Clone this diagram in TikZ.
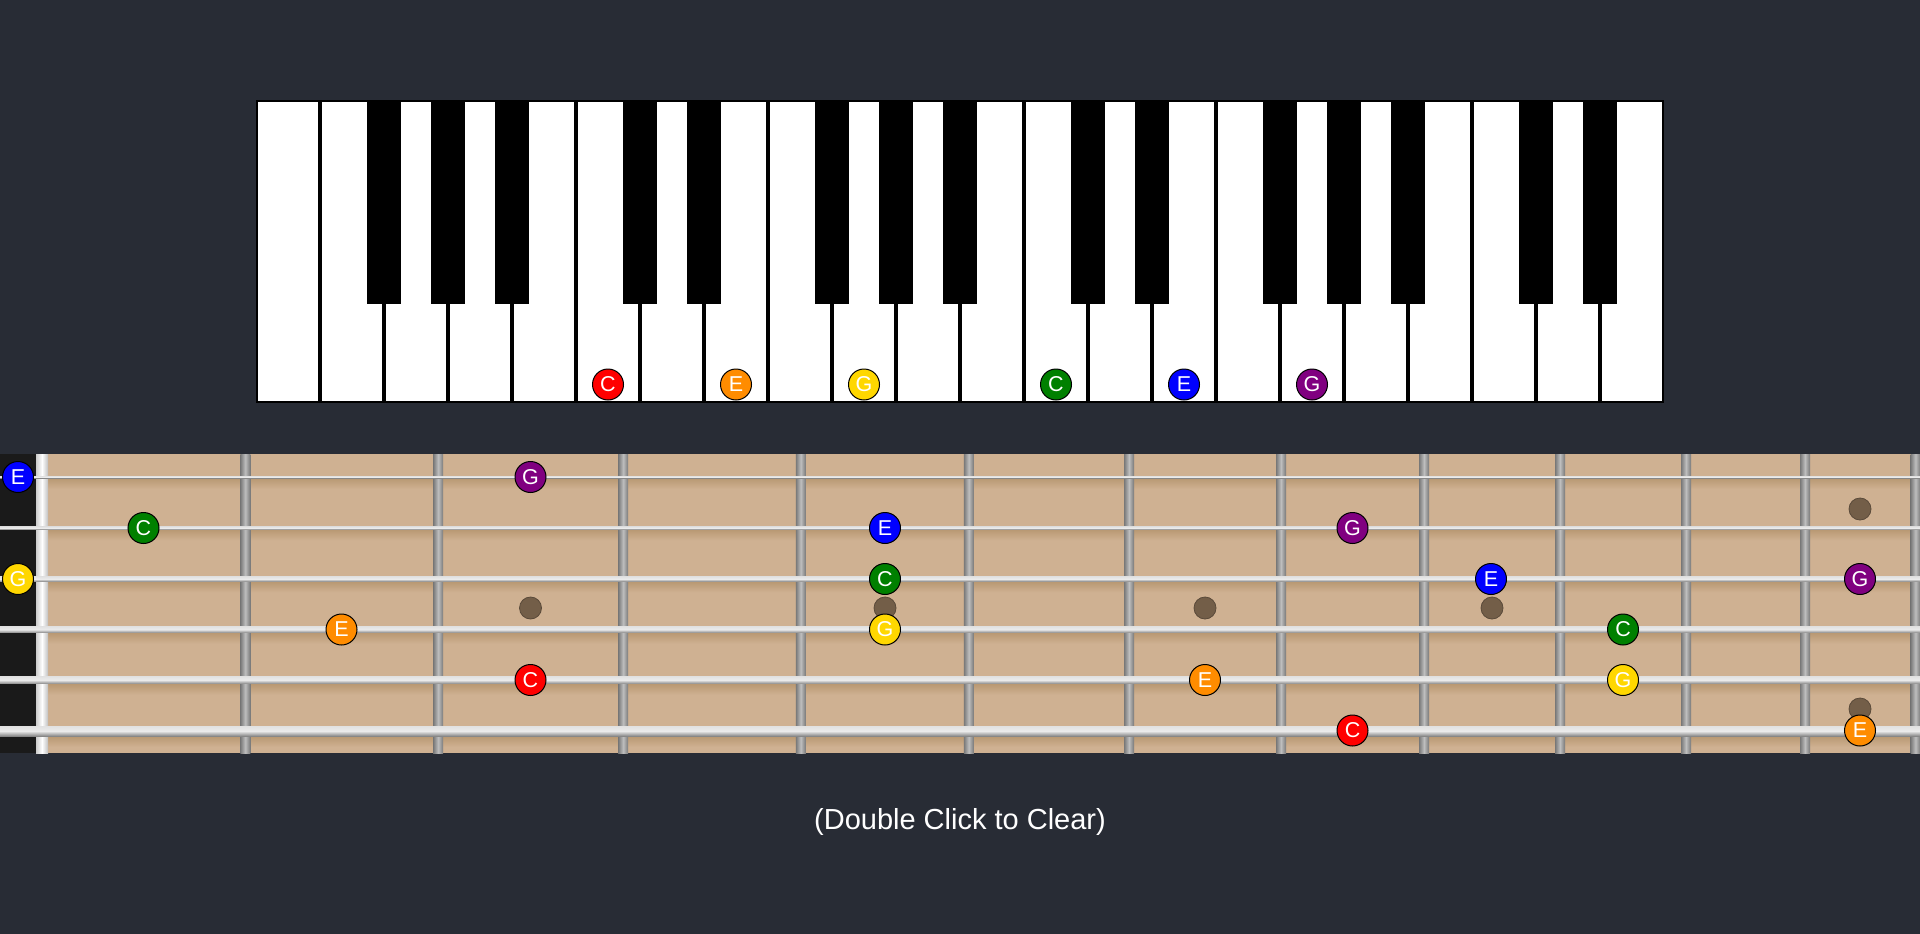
\documentclass[tikz,border=0pt]{standalone}
\usepackage{fontspec}
\setmainfont{Liberation Sans}
\definecolor{bg}{HTML}{282C35}
\definecolor{wood}{RGB}{207,177,146}
\definecolor{woodshadow}{RGB}{184,152,114}
\definecolor{nutarea}{HTML}{1A1A1A}
\definecolor{inlaybrown}{RGB}{115,94,72}
\definecolor{inlayedge}{RGB}{90,74,58}
\definecolor{fretdark}{RGB}{120,120,120}
\definecolor{fretlight}{RGB}{190,190,190}
\definecolor{strlight}{RGB}{225,225,225}
\definecolor{strmid}{RGB}{235,235,235}
\definecolor{strdark}{RGB}{135,135,135}
\definecolor{nC}{RGB}{255,0,0}
\definecolor{nE}{RGB}{255,140,0}
\definecolor{nG}{RGB}{255,215,0}
\definecolor{nCC}{RGB}{0,128,0}
\definecolor{nEE}{RGB}{0,0,255}
\definecolor{nGG}{RGB}{128,0,128}
\begin{document}
\begin{tikzpicture}[x=1pt,y=-1pt,
  note/.style={circle, draw=black, line width=1pt, minimum size=31pt, inner sep=0pt,
    text=white, font=\fontsize{21.5}{21.5}\selectfont},
  inlay/.style={circle, fill=inlaybrown, draw=inlayedge, line width=0.8pt, minimum size=22pt, inner sep=0pt},
  whitekey/.style={fill=white},
  blackkey/.style={fill=black},
  fretbar/.style={left color=fretdark, right color=fretdark, middle color=fretlight},
  stringbar/.style={top color=strlight, bottom color=strdark, middle color=strmid},
  caption/.style={text=white, font=\fontsize{29}{29}\selectfont}
]
\useasboundingbox (0,0) rectangle (1920,934);
\fill[bg] (0,0) rectangle (1920,934);

% ---------- piano ----------
\fill[black] (256,100) rectangle (1664,403);
\foreach \i in {0,...,21}
  \fill[whitekey] ({256+64*\i+2},102) rectangle ({256+64*(\i+1)-2},401);
\foreach \k in {2,3,4,6,7,9,10,11,13,14,16,17,18,20,21}
  \fill[blackkey] ({256+64*\k-17},100) rectangle ({256+64*\k+17},304);

\node[note, fill=nC]  (pC1) at (608,384.5)  {C};
\node[note, fill=nE]  (pE1) at (736,384.5)  {E};
\node[note, fill=nG]  (pG1) at (864,384.5)  {G};
\node[note, fill=nCC] (pC2) at (1056,384.5) {C};
\node[note, fill=nEE] (pE2) at (1184,384.5) {E};
\node[note, fill=nGG] (pG2) at (1312,384.5) {G};

% ---------- fretboard ----------
\fill[wood] (0,454) rectangle (1920,753);
\fill[nutarea] (0,454) rectangle (36,753);

% shadows under strings
\foreach \y/\w in {477/2, 528/2.7, 579/5, 629.5/6.5, 680/7.5, 731/10}
  \shade[top color=woodshadow, bottom color=wood] (48,{\y+\w/2}) rectangle (1920,{\y+\w/2+11});

% inlays
\node[inlay] (d3)  at (530.5,608) {};
\node[inlay] (d5)  at (885,608) {};
\node[inlay] (d7)  at (1205,608) {};
\node[inlay] (d9)  at (1492,608) {};
\node[inlay] (d12a) at (1860,509) {};
\node[inlay] (d12b) at (1860,709) {};

% frets
\foreach \x in {245.3,438.2,623.2,800.8,968.8,1129,1281,1424,1560,1686,1805,1915.5}
  \shade[fretbar] ({\x-5},454) rectangle ({\x+5},753);

% nut
\shade[left color=black!20, right color=black!25, middle color=white] (36,454) rectangle (48,753);

% strings
\foreach \y/\w in {477/2, 528/2.7, 579/5, 629.5/6.5, 680/7.5, 731/10}
  \shade[stringbar] (0,{\y-\w/2}) rectangle (1920,{\y+\w/2});

% notes on strings
% string 1 (high E)
\node[note, fill=nEE] (s1o) at (18,477) {E};
\node[note, fill=nGG] (s1f3) at (530.5,477) {G};
% string 2 (B)
\node[note, fill=nCC] (s2f1) at (143.5,528) {C};
\node[note, fill=nEE] (s2f5) at (885,528) {E};
\node[note, fill=nGG] (s2f8) at (1352.5,528) {G};
% string 3 (G)
\node[note, fill=nG]  (s3o) at (18,579) {G};
\node[note, fill=nCC] (s3f5) at (885,579) {C};
\node[note, fill=nEE] (s3f9) at (1491,579) {E};
\node[note, fill=nGG] (s3f12) at (1860,579) {G};
% string 4 (D)
\node[note, fill=nE]  (s4f2) at (341.5,629.5) {E};
\node[note, fill=nG]  (s4f5) at (885,629.5) {G};
\node[note, fill=nCC] (s4f10) at (1623,629.5) {C};
% string 5 (A)
\node[note, fill=nC]  (s5f3) at (530.5,680) {C};
\node[note, fill=nE]  (s5f7) at (1205,680) {E};
\node[note, fill=nG]  (s5f10) at (1623,680) {G};
% string 6 (low E)
\node[note, fill=nC]  (s6f8) at (1352.5,730.5) {C};
\node[note, fill=nE]  (s6f12) at (1860,730.5) {E};

% ---------- caption ----------
\node[caption] (cap) at (960,822) {(Double Click to Clear)};
\end{tikzpicture}
\end{document}
